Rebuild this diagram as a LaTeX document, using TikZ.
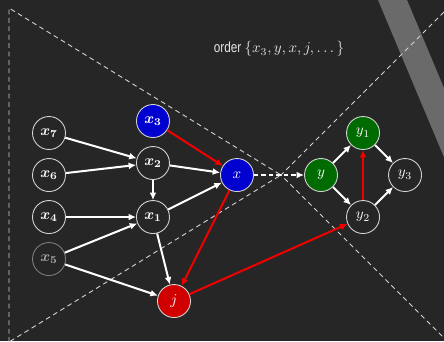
\documentclass[tikz,border=0pt]{standalone}
\usepackage{amsmath}
\usepackage{fontspec}
\usepackage{tikz}
\usetikzlibrary{positioning}
\usetikzlibrary{arrows.meta}

\newfontfamily\ordfont[FakeStretch=0.8]{Liberation Sans}

\definecolor{bg}{HTML}{262626}
\definecolor{band}{HTML}{6A6A6A}
\definecolor{rim}{HTML}{D2D2D2}
\definecolor{nodeblue}{HTML}{0000CF}
\definecolor{nodegreen}{HTML}{006B00}
\definecolor{nodered}{HTML}{D00000}
\definecolor{linkred}{HTML}{F20000}

\tikzset{
	vtx/.style={circle, draw=rim, line width=0.6pt, fill=bg, text=white,
		minimum size=22pt, inner sep=0pt},
	dim/.style={draw=rim!50!bg, text=white!60!bg},
	link/.style={white, line width=1.35pt, -{Latex[length=5pt,width=4.6pt]}},
	redlink/.style={link, linkred},
	cone/.style={rim, line width=0.6pt, dash pattern=on 3.2pt off 2.4pt},
}

\begin{document}
\begin{tikzpicture}[node distance=0.984cm, on grid]
	% canvas
	\fill[bg] (-5.552,-3.889) rectangle (4.849,4.100);
	\useasboundingbox (-5.552,-3.889) rectangle (4.849,4.100);
	\begin{scope}
		\clip (-5.552,-3.889) rectangle (4.849,4.100);
		\fill[band] (3.303,4.100) -- (3.983,4.100) -- (5.951,-0.586) -- (5.271,-0.586) -- cycle;
	\end{scope}
	%%%%%%%%%% cones
	\coordinate (apex) at (1.031,0);
	\coordinate (nw) at (-5.341,3.912);
	\coordinate (sw) at (-5.341,-3.912);
	\coordinate (ne) at (4.849,3.818);
	\coordinate (se) at (4.849,-3.818);
	\draw[cone] (sw) -- (nw) -- (apex) -- cycle;
	\draw[cone] (ne) -- (apex) -- (se);
	%%%%%%%%%% variables
	\node[vtx, fill=nodeblue] (x) at (0,0) {$x$};
	\node[vtx, below left =0.984cm and 1.968cm of x] (x1) {$\boldsymbol{x_1}$};
	\node[vtx, above =1.265cm of x1] (x2) {$\boldsymbol{x_2}$};
	\node[vtx, fill=nodeblue, above =0.984cm of x2] (x3) {$\boldsymbol{x_3}$};
	\node[vtx, left =2.436cm of x1] (x4) {$\boldsymbol{x_4}$};
	\node[vtx, above =of x4] (x6) {$\boldsymbol{x_6}$};
	\node[vtx, above =of x6] (x7) {$\boldsymbol{x_7}$};
	\node[vtx, dim, below =of x4] (x5) {$\boldsymbol{x_5}$};
	\node[vtx, fill=nodered, below right =1.968cm and 0.492cm of x1] (j) {$j$};
	\node[vtx, fill=nodegreen, right =1.968cm of x] (y) {$y$};
	\node[vtx, fill=nodegreen, above right =0.984cm and 0.984cm of y] (y1) {$y_1$};
	\node[vtx, below right =0.984cm and 0.984cm of y] (y2) {$y_2$};
	\node[vtx, right =1.968cm of y] (y3) {$y_3$};
	\node[above right =2.952cm and 0.984cm of x, text=white!88!bg] (order)
		{\ordfont\fontsize{9.8}{12}\selectfont order $\{x_3,y,x,j,\dots\}$};
	%%%%%%%%%% arrows
	\draw[link] (x7) -- (x2);
	\draw[link] (x6) -- (x2);
	\draw[link] (x4) -- (x1);
	\draw[link] (x5) -- (x1);
	\draw[link] (x5) -- (j);
	\draw[link] (x2) -- (x1);
	\draw[link] (x2) -- (x);
	\draw[link] (x1) -- (x);
	\draw[link] (x1) -- (j);
	\draw[redlink] (x3) -- (x);
	\draw[redlink] (x) -- (j);
	\draw[redlink] (j) -- (y2);
	\draw[link, dash pattern=on 3pt off 2pt] (x) -- (y);
	%%%%%%%%%%
	\draw[link] (y) -- (y1);
	\draw[link] (y) -- (y2);
	\draw[link] (y1) -- (y3);
	\draw[link] (y2) -- (y3);
	\draw[redlink] (y2) -- (y1);
\end{tikzpicture}
\end{document}
